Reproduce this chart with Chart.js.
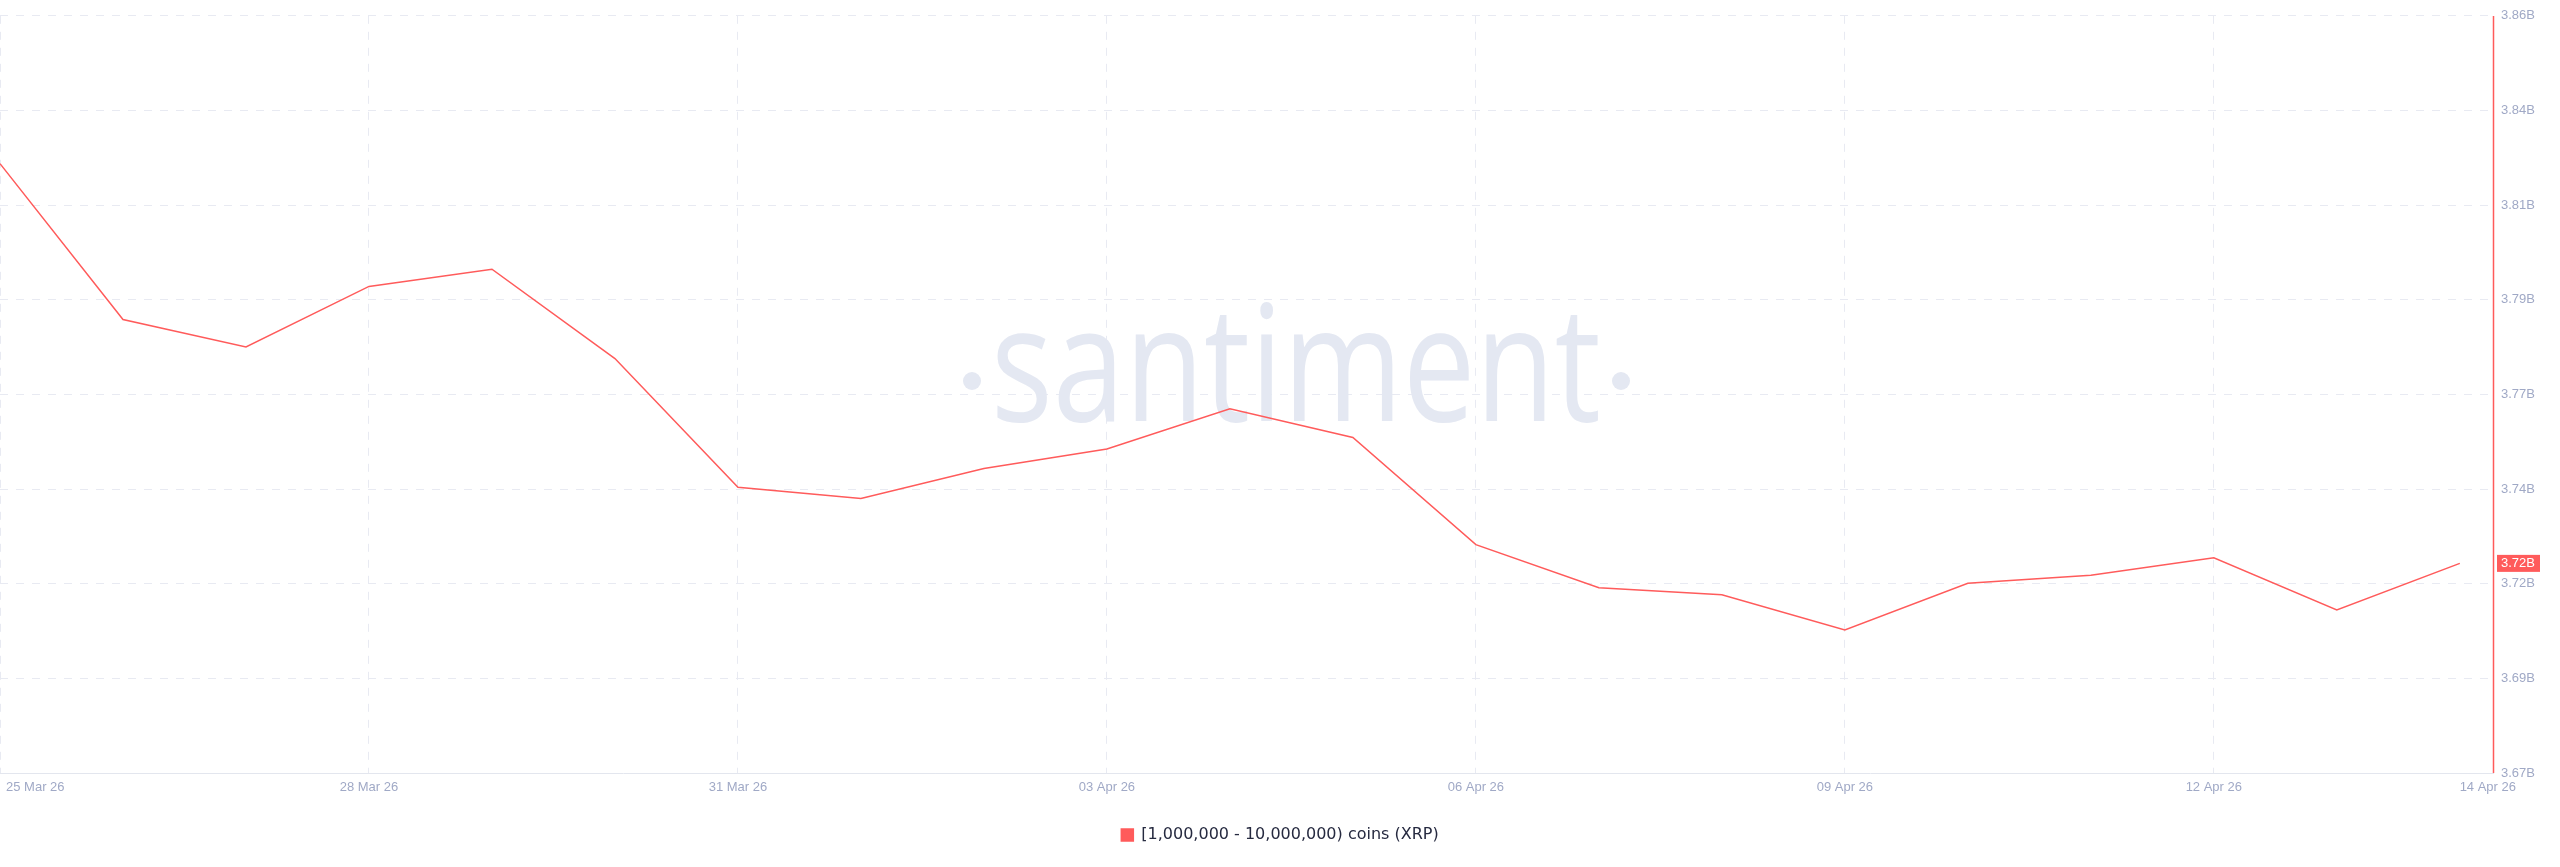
<!DOCTYPE html>
<html>
<head>
<meta charset="utf-8">
<script src="https://cdn.jsdelivr.net/npm/chart.js@4.4.1/dist/chart.umd.min.js"></script>
<style>
html,body{margin:0;padding:0;background:#ffffff;overflow:hidden}
#wrap{width:2560px;height:867px;position:relative}
</style>
</head>
<body>
<div id="wrap"><canvas id="c" width="2560" height="867"></canvas></div>
<script>
// ---- data ----
const dates = ['25 Mar 26','26 Mar 26','27 Mar 26','28 Mar 26','29 Mar 26','30 Mar 26','31 Mar 26',
               '01 Apr 26','02 Apr 26','03 Apr 26','04 Apr 26','05 Apr 26','06 Apr 26','07 Apr 26',
               '08 Apr 26','09 Apr 26','10 Apr 26','11 Apr 26','12 Apr 26','13 Apr 26','14 Apr 26'];
// values in billions of XRP
const values = [3.8229, 3.7838, 3.7769, 3.7921, 3.7964, 3.7740, 3.7417,
                3.7389, 3.7464, 3.7513, 3.7614, 3.7542, 3.7273, 3.7165,
                3.7147, 3.7059, 3.7176, 3.7196, 3.7240, 3.7109, 3.7226];
const xTickIndex  = [0, 3, 6, 9, 12, 15, 18, 20];
const xTickLabels = ['25 Mar 26','28 Mar 26','31 Mar 26','03 Apr 26','06 Apr 26','09 Apr 26','12 Apr 26','14 Apr 26'];
const yMin = 3.67;
const yMax = 3.86;
const yTickCount = 9;
const seriesLabel = '[1,000,000 - 10,000,000) coins (XRP)';

// ---- style ----
const LINE = '#ff5b5b';
const AXIS_TXT = '#a0a9c6';
const GRID = '#e8eaf2';
const FONT = '"Liberation Sans", Arial, sans-serif';
const WM = '#e4e8f2';

function fmtB(v){ return (Math.round(v*100 + 1e-6)/100).toFixed(2) + 'B'; }

const points = values.map((v,i)=>({x:i, y:v}));

const watermark = {
  id:'watermark',
  beforeDatasetsDraw(chart){
    const ctx = chart.ctx;
    ctx.save();
    ctx.fillStyle = WM;
    ctx.font = '500 161px "Open Sans"';
    const t = 'santiment';
    const w = ctx.measureText(t).width;
    ctx.translate(991, 421);
    ctx.scale(610 / w, 1);
    ctx.textBaseline = 'alphabetic';
    ctx.textAlign = 'left';
    ctx.fillText(t, 0, 0);
    ctx.restore();
    ctx.save();
    ctx.fillStyle = WM;
    [972, 1621].forEach(cx=>{ ctx.beginPath(); ctx.arc(cx, 381, 9, 0, Math.PI*2); ctx.fill(); });
    ctx.restore();
  }
};

const axisAndLabels = {
  id:'axisAndLabels',
  afterDraw(chart){
    const ctx = chart.ctx, xs = chart.scales.x, ys = chart.scales.y, area = chart.chartArea;
    ctx.save();
    // right value axis line
    ctx.fillStyle = LINE;
    ctx.fillRect(Math.round(area.right) - 0.25, Math.round(area.top), 1.5, Math.round(area.bottom - area.top));
    // date labels
    ctx.font = '13px ' + FONT;
    ctx.fillStyle = AXIS_TXT;
    ctx.textBaseline = 'middle';
    ctx.textAlign = 'left';
    xTickIndex.forEach((v,i)=>{
      const txt = xTickLabels[i];
      const w = ctx.measureText(txt).width;
      const px = xs.getPixelForValue(v);
      let left = px - w/2;
      if (left < 6) left = 6;
      if (i === xTickIndex.length - 1) left = area.right + 23 - w;
      ctx.fillText(txt, left, area.bottom + 14);
    });
    // last value badge
    const lv = values[values.length-1];
    const y = ys.getPixelForValue(lv);
    ctx.fillStyle = LINE;
    ctx.fillRect(area.right + 4, y - 8.5, 43, 17);
    ctx.fillStyle = '#ffffff';
    ctx.fillText(fmtB(lv), area.right + 8, y + 0.5);
    ctx.restore();
  }
};

new Chart(document.getElementById('c'), {
  type:'line',
  data:{
    labels: dates,
    datasets:[{
      label: seriesLabel,
      data: points,
      borderColor: LINE,
      backgroundColor: LINE,
      borderWidth: 1.5,
      pointRadius: 0,
      pointHoverRadius: 0,
      tension: 0,
      fill: false
    }]
  },
  options:{
    responsive:false,
    devicePixelRatio:1,
    animation:false,
    layout:{padding:{top:9, right:0, bottom:14, left:0}},
    plugins:{
      tooltip:{enabled:false},
      legend:{
        display:true,
        position:'bottom',
        labels:{
          boxWidth:12, boxHeight:12, padding:10,
          color:'#262a40',
          font:{size:16, family:'"DejaVu Sans", sans-serif'}
        }
      }
    },
    scales:{
      x:{
        type:'linear',
        min:0,
        max:20.27,
        ticks:{display:false},
        afterBuildTicks(s){ s.ticks = xTickIndex.slice(0,-1).map(v=>({value:v})); },
        afterFit(s){ s.height = 44; s.paddingLeft = 0; s.paddingRight = 0; },
        grid:{color:GRID, lineWidth:1, drawTicks:false},
        border:{display:true, color:'#e3e6ee', width:1, dash:[8,8]}
      },
      y:{
        type:'linear',
        position:'right',
        min:yMin,
        max:yMax,
        ticks:{
          count:yTickCount,
          padding:8,
          color:AXIS_TXT,
          font:{size:13, family:FONT},
          callback:(v)=>fmtB(v)
        },
        afterFit(s){ s.width = 67; },
        grid:{color:GRID, lineWidth:1, drawTicks:false},
        border:{display:false, dash:[8,8]}
      }
    }
  },
  plugins:[watermark, axisAndLabels]
});
</script>
</body>
</html>
